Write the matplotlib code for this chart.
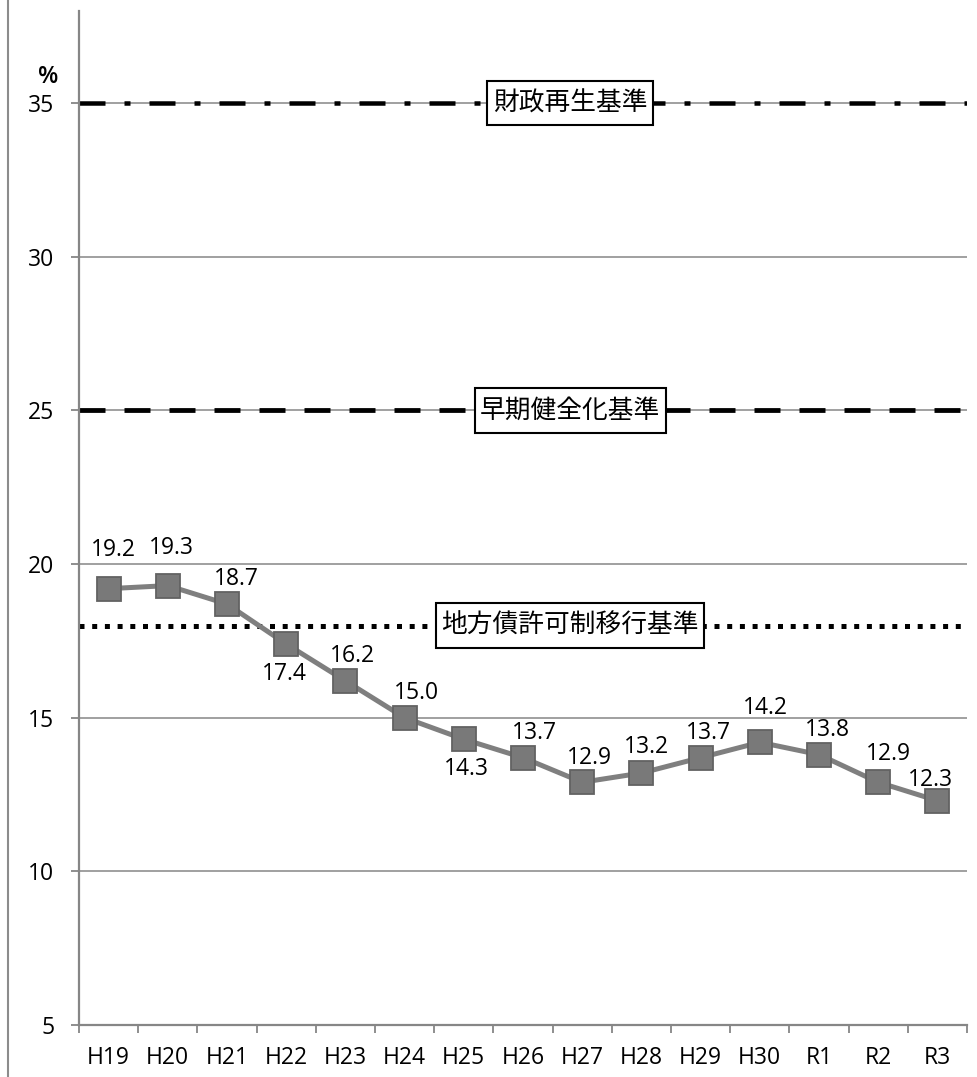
import matplotlib
matplotlib.use("Agg")
import matplotlib.pyplot as plt
from matplotlib.lines import Line2D
from matplotlib.ticker import FixedLocator, NullFormatter

plt.rcParams['font.family'] = ['Open Sans', 'Noto Sans CJK JP', 'DejaVu Sans']
plt.rcParams['lines.scale_dashes'] = False

# Fiscal years and the ratio (%) for each year
years = ["H19", "H20", "H21", "H22", "H23", "H24", "H25", "H26", "H27",
         "H28", "H29", "H30", "R1", "R2", "R3"]
ratio = [19.2, 19.3, 18.7, 17.4, 16.2, 15.0, 14.3, 13.7, 12.9,
         13.2, 13.7, 14.2, 13.8, 12.9, 12.3]

# Statutory thresholds (%)
threshold_names = ["財政再生基準", "早期健全化基準", "地方債許可制移行基準"]
threshold_values = [35, 25, 18]

y_ticks = [5, 10, 15, 20, 25, 30, 35]

# Data-label offsets in points (dx, dy) relative to each marker
px = 0.72
label_offsets = [(5, 39), (4, 38), (9, 25), (-2, -30), (7, 25), (12, 25),
                 (3, -30), (11, 25), (7, 24), (5, 26), (8, 25), (6, 34),
                 (8, 25), (10, 28), (-7, 21)]

GRID = "#868686"
SERIES = "#7f7f7f"
FS = 16.5

fig = plt.figure(figsize=(9.77, 10.77), dpi=100)
ax = fig.add_axes([79 / 977, 1 - 1025 / 1077, 888 / 977, (1025 - 11) / 1077])

xs = list(range(len(years)))
ax.set_xlim(-0.5, len(years) - 0.5)
ax.set_ylim(5, 38)

# Horizontal grid
ax.set_yticks(y_ticks)
ax.yaxis.grid(True, color=GRID, linewidth=1.1)
ax.set_axisbelow(True)

# Threshold lines
styles = [
    dict(dashes=(26 * px, 19 * px, 6 * px, 19 * px), linewidth=4.5 * px),
    dict(dashes=(26 * px, 19 * px), linewidth=4.8 * px),
    dict(dashes=(5 * px, 7.7 * px), linewidth=5 * px),
]
for val, st in zip(threshold_values, styles):
    ax.axhline(val, color="black", solid_capstyle="butt",
               dash_capstyle="butt", zorder=2, **st)

for name, val in zip(threshold_names, threshold_values):
    ax.text(0.553, val, name, transform=ax.get_yaxis_transform(),
            ha="center", va="center", fontsize=18.5,
            family=["Noto Sans CJK JP", "DejaVu Sans"], zorder=5,
            bbox=dict(boxstyle="square,pad=0.21", mutation_aspect=1.7,
                      facecolor="white", edgecolor="black", linewidth=1.5))

# Ratio series
ax.plot(xs, ratio, color=SERIES, linewidth=5 * px, marker="s",
        markersize=24 * px, markerfacecolor="#797979",
        markeredgecolor="#626262", markeredgewidth=1.3, zorder=4)

for x, v, (dx, dy) in zip(xs, ratio, label_offsets):
    ax.annotate(f"{v:.1f}", (x, v), xytext=(dx * px, dy * px),
                textcoords="offset points", ha="center", va="center",
                fontsize=FS, color="black", zorder=6)

# Axes styling
for side in ("top", "right"):
    ax.spines[side].set_visible(False)
for side in ("left", "bottom"):
    ax.spines[side].set_color(GRID)
    ax.spines[side].set_linewidth(1.6)

ax.tick_params(axis="y", length=8 * px, width=1.3, color=GRID,
               labelsize=FS, pad=12)
ax.set_xticks(xs)
ax.set_xticklabels(years)
ax.tick_params(axis="x", which="major", length=0, labelsize=FS, pad=15)
ax.xaxis.set_minor_locator(FixedLocator([i - 0.5 for i in range(len(years) + 1)]))
ax.xaxis.set_minor_formatter(NullFormatter())
ax.tick_params(axis="x", which="minor", length=8 * px, width=1.3, color=GRID)

# Unit label above the value axis
fig.text(48 / 977, 1 - 77 / 1077, "%", ha="center", va="center",
         fontsize=17, fontweight="semibold")

# Left frame rule
fig.add_artist(Line2D([8 / 977, 8 / 977], [0, 1], color="#8c8c8c",
                      linewidth=1.5, transform=fig.transFigure))

fig.savefig("out.png", dpi=100)
